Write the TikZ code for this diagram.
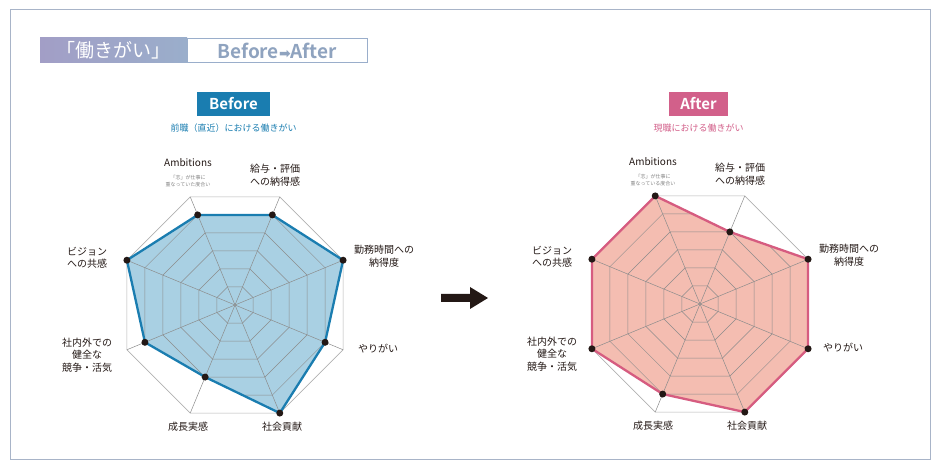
\documentclass[tikz,border=0pt]{standalone}
\usepackage{fontspec}
\setmainfont{Noto Sans CJK JP}
\newfontfamily\cjkb{Noto Sans CJK JP}[BoldFont={* Bold}]
\newfontfamily\djv{DejaVu Sans}
\definecolor{frame}{HTML}{A8B4C8}
\definecolor{titleA}{HTML}{A29EC6}
\definecolor{titleB}{HTML}{9AAECB}
\definecolor{titletxt}{HTML}{8FA3BF}
\definecolor{bblue}{HTML}{1A7DB0}
\definecolor{bfill}{HTML}{A9D0E3}
\definecolor{apink}{HTML}{D65C80}
\definecolor{afill}{HTML}{F4BDB1}
\definecolor{abox}{HTML}{D2608A}
\definecolor{txt}{HTML}{231815}
\tikzset{
 lab/.style={text=txt,font=\fontsize{10}{12.5}\selectfont,align=center,inner sep=0pt},
 sub/.style={text=black!50,font=\fontsize{5}{6.5}\selectfont,align=center,inner sep=0pt},
 gridl/.style={draw=black!45,line width=0.5pt},
 outer/.style={draw=black!30,fill=white,line width=0.6pt},
 dot/.style={circle,fill=txt,inner sep=0pt,minimum size=7pt},
}
\newcommand\radarchart[4]{%
 \foreach \j in {0,...,7}{\coordinate (#1o\j) at ({112.5-45*\j}:117);}
 \draw[outer] (#1o0)--(#1o1)--(#1o2)--(#1o3)--(#1o4)--(#1o5)--(#1o6)--(#1o7)--cycle;
 \foreach \v [count=\i from 0] in {#2}{\coordinate (#1p\i) at ({112.5-45*\i}:{\v*19.5});}
 \fill[#3] (#1p0)--(#1p1)--(#1p2)--(#1p3)--(#1p4)--(#1p5)--(#1p6)--(#1p7)--cycle;
 \begin{scope}
  \clip (#1p0)--(#1p1)--(#1p2)--(#1p3)--(#1p4)--(#1p5)--(#1p6)--(#1p7)--cycle;
  \foreach \k in {1,...,5}{\draw[gridl] (112.5:\k*19.5) \foreach \j in {1,...,7}{--({112.5-45*\j}:\k*19.5)}--cycle;}
 \end{scope}
 \coordinate (#1c) at (0,0);
 \foreach \j in {0,...,7}{\draw[gridl] (#1c)--(#1o\j);}
 \draw[#4,line width=2.3pt,line join=round] (#1p0)--(#1p1)--(#1p2)--(#1p3)--(#1p4)--(#1p5)--(#1p6)--(#1p7)--cycle;
 \foreach \j in {0,...,7}{\node[dot] (#1d\j) at (#1p\j) {};}
}
\newcommand\radarlabels[2]{%
 \node[lab] (#1l0) at (-47,142) {Ambitions};
 \node[sub] (#1s0) at (-47,124) {「志」が仕事に\\#2};
 \node[lab] (#1l1) at (40,130) {給与・評価\\への納得感};
 \node[lab] (#1l2) at (149,49) {勤務時間への\\納得度};
 \node[lab] (#1l3) at (143,-44) {やりがい};
 \node[lab] (#1l4) at (47,-122) {社会貢献};
 \node[lab] (#1l5) at (-47,-122) {成長実感};
 \node[lab] (#1l6) at (-148,-50) {社内外での\\健全な\\競争・活気};
 \node[lab] (#1l7) at (-148,47) {ビジョン\\への共感};
}
\begin{document}
\begin{tikzpicture}[x=1pt,y=1pt]
\useasboundingbox (0,0) rectangle (940,470);
\draw[frame,line width=1pt] (10,10) rectangle (930,460);
% title
\shade[left color=titleA,right color=titleB] (40,407) rectangle (187,432);
\node[text=white,font=\fontsize{19}{20}\selectfont,inner sep=0pt] (t1) at (113.5,419.5) {「働きがい」};
\draw[titleB,line width=1pt,fill=white] (187,407.5) rectangle (367,431.5);
\node[text=titletxt,font=\cjkb\bfseries\fontsize{19}{20}\selectfont,inner sep=0pt] (t2) at (277,419.5) {Before{\djv\fontsize{14}{14}\selectfont ➡}After};
% headers
\node[fill=bblue,text=white,font=\cjkb\bfseries\fontsize{15}{16}\selectfont,minimum width=73pt,minimum height=24pt,inner sep=0pt] (hb) at (233.5,366) {Before};
\node[text=bblue,font=\fontsize{9}{10}\selectfont] (sb) at (233.5,342) {前職（直近）における働きがい};
\node[fill=abox,text=white,font=\cjkb\bfseries\fontsize{15}{16}\selectfont,minimum width=59pt,minimum height=24pt,inner sep=0pt] (ha) at (698.5,366) {After};
\node[text=abox,font=\fontsize{9}{10}\selectfont] (sa) at (698.5,342) {現職における働きがい};
% charts
\begin{scope}[shift={(235,165)}]
 \radarchart{b}{5,5,6,5,6,4,5,6}{bfill}{bblue}
 \radarlabels{b}{重なっていた度合い}
\end{scope}
\begin{scope}[shift={(700,166)}]
 \radarchart{a}{6,4,6,6,6,5,6,6}{afill}{apink}
 \radarlabels{a}{重なっている度合い}
\end{scope}
% arrow
\coordinate (ar1) at (441,172);
\coordinate (ar2) at (488,172);
\fill[txt] (441,168) -- (470,168) -- (470,161) -- (488,172) -- (470,183) -- (470,176) -- (441,176) -- cycle;
\end{tikzpicture}
\end{document}
